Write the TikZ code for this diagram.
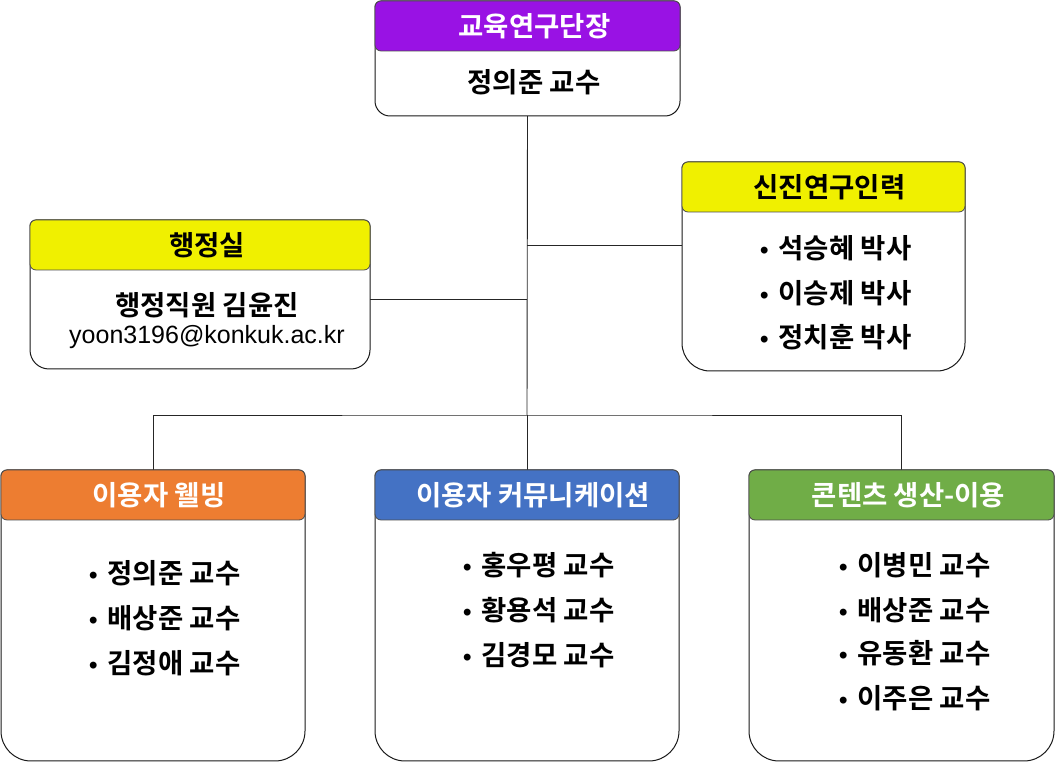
\documentclass[tikz,border=0pt]{standalone}
\usepackage{fontspec}
\setmainfont{Noto Sans CJK KR}[BoldFont={Noto Sans CJK KR Bold}]
\newfontfamily\lib{Liberation Sans}
\usetikzlibrary{calc}
\definecolor{cpurple}{HTML}{9912E4}
\definecolor{cyellow}{HTML}{F0F000}
\definecolor{corange}{HTML}{ED7D31}
\definecolor{cblue}{HTML}{4472C4}
\definecolor{cgreen}{HTML}{70AD47}
\newcommand\unitoutline[2]{%
  \draw[bodyline] ($(#1.north west)+(0,-6)$) arc[start angle=180,end angle=90,radius=6]
    -- ($(#1.north east)+(-6,0)$) arc[start angle=90,end angle=0,radius=6]
    -- ($(#1.south east)+(0,#2)$) arc[start angle=0,end angle=-90,radius=#2]
    -- ($(#1.south west)+(#2,0)$) arc[start angle=270,end angle=180,radius=#2]
    -- cycle;}
\begin{document}
\begin{tikzpicture}[x=1pt,y=1pt,
  unit/.style={rectangle,inner sep=0,outer sep=0},
  bodyline/.style={draw=black!90,fill=white,line width=1pt},
  hdr/.style={rectangle,rounded corners=6pt,draw=black!70,line width=0.8pt,minimum height=50pt,inner sep=0,outer sep=0,anchor=north},
  htxt/.style={inner sep=0,font=\bfseries\fontsize{27.5}{32}\selectfont},
  btxt/.style={inner sep=0,font=\bfseries\fontsize{27.5}{32}\selectfont},
  item/.style={inner sep=0,anchor=west,font=\bfseries\fontsize{27.5}{32}\selectfont},
  conn/.style={draw=black!85,line width=0.9pt}]
\useasboundingbox (0,0) rectangle (1055,762);
\newcommand\bul{{\lib\fontsize{24}{28}\selectfont •}\hspace{10pt}}
\coordinate (bus) at (527,347);
\coordinate (admj) at (527,463);
\coordinate (newj) at (527,517);
% unit boxes
\node[unit,minimum width=305,minimum height=115] (top) at (527.5,703.5) {};
\node[unit,minimum width=340,minimum height=149] (adm) at (200,467.5) {};
\node[unit,minimum width=283,minimum height=209] (new) at (823.5,495.5) {};
\node[unit,minimum width=304,minimum height=291] (wel) at (153,146.5) {};
\node[unit,minimum width=304,minimum height=291] (com) at (527,146.5) {};
\node[unit,minimum width=305,minimum height=291] (con) at (901.5,146.5) {};
\draw[conn] (top.south) -- (bus);
\draw[conn] (admj -| adm.east) -- (admj);
\draw[conn] (newj) -- (newj -| new.west);
\draw[conn] (wel.north) |- (bus) -| (con.north);
\draw[conn] (com.north) -- (bus);
\unitoutline{top}{15}
\unitoutline{adm}{19}
\unitoutline{new}{28}
\unitoutline{wel}{30}
\unitoutline{com}{30}
\unitoutline{con}{30}
\node[hdr,fill=cpurple,minimum width=305] (toph) at (top.north) {};
\node[hdr,fill=cyellow,minimum width=340] (admh) at (adm.north) {};
\node[hdr,fill=cyellow,minimum width=283] (newh) at (new.north) {};
\node[hdr,fill=corange,minimum width=304] (welh) at (wel.north) {};
\node[hdr,fill=cblue,minimum width=304] (comh) at (com.north) {};
\node[hdr,fill=cgreen,minimum width=305] (conh) at (con.north) {};
% header texts
\node[htxt,text=white] (topt) at ($(toph.center)+(7,0)$) {교육연구단장};
\node[htxt] (admt) at ($(admh.center)+(7,0)$) {행정실};
\node[htxt] (newt) at ($(newh.center)+(6,0)$) {신진연구인력};
\node[htxt,text=white] (welt) at ($(welh.center)+(6,0)$) {이용자 웰빙};
\node[htxt,text=white] (comt) at ($(comh.center)+(6,0)$) {이용자 커뮤니케이션};
\node[htxt,text=white] (cont) at ($(conh.center)+(7,0)$) {콘텐츠 생산-이용};
% body texts
\node[btxt] (topm) at (534,680) {정의준 교수};
\node[btxt] (adm1) at (207,457) {행정직원 김윤진};
\node[inner sep=0,font=\lib\fontsize{25}{29}\selectfont] (adm2) at (207,425) {yoon3196@konkuk.ac.kr};
\node[item] (new1) at (760,514) {\bul 석승혜 박사};
\node[item] (new2) at (760,469) {\bul 이승제 박사};
\node[item] (new3) at (760,425) {\bul 정치훈 박사};
\node[item] (wel1) at (89,189) {\bul 정의준 교수};
\node[item] (wel2) at (89,144) {\bul 배상준 교수};
\node[item] (wel3) at (89,99) {\bul 김정애 교수};
\node[item] (com1) at (463,197) {\bul 홍우평 교수};
\node[item] (com2) at (463,152) {\bul 황용석 교수};
\node[item] (com3) at (463,107) {\bul 김경모 교수};
\node[item] (con1) at (839,197) {\bul 이병민 교수};
\node[item] (con2) at (839,152) {\bul 배상준 교수};
\node[item] (con3) at (839,109) {\bul 유동환 교수};
\node[item] (con4) at (839,64) {\bul 이주은 교수};
\end{tikzpicture}
\end{document}
